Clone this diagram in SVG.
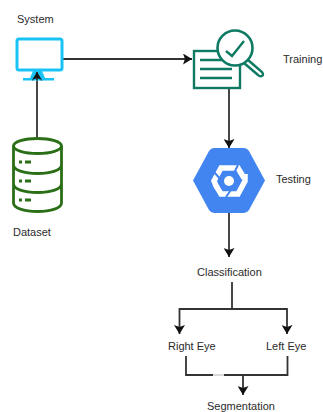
<svg xmlns="http://www.w3.org/2000/svg" width="323" height="412" viewBox="0 0 323 412">
<style>
text{font-family:"Liberation Sans",Arial,sans-serif;font-size:11px;fill:#2b2b2b}
.c{fill:none;stroke:#333;stroke-width:1.800}
.g{fill:none;stroke:#2a6f16;stroke-width:2.800}
.t{fill:none;stroke:#0f7a62;stroke-width:2.400}
.w{fill:none;stroke:#fff;stroke-width:5.500}
</style>
<defs><marker id="a" markerUnits="userSpaceOnUse" markerWidth="10" markerHeight="11" refX="9" refY="5.500" orient="auto"><path d="M0,0L9,5.500L0,11L2,5.500Z" fill="#111"/></marker></defs>
<rect width="323" height="412" fill="#fff"/>
<g id="connectors">
<path class="c" d="M63,59H192" marker-end="url(#a)"/>
<path class="c" d="M37,138V72" marker-end="url(#a)"/>
<path class="c" d="M229,88V148" marker-end="url(#a)"/>
<path class="c" d="M229,213V257" marker-end="url(#a)"/>
<path class="c" d="M232,282V309"/>
<path class="c" d="M232,309H179.500V334" marker-end="url(#a)"/>
<path class="c" d="M232,309H287V334" marker-end="url(#a)"/>
<path class="c" d="M186,356V375H213M224,375H287.500V356"/>
<path d="M213,375H224" stroke="#ccc" stroke-width="1.500"/>
<path class="c" d="M243,375V395" marker-end="url(#a)"/>
</g>
<g id="system"><rect x="17" y="39" width="45" height="31" rx="2" fill="#fff" stroke="#19c3f5" stroke-width="3"/><path d="M33,71H42L45,78H54V80.500H23V78H30Z" fill="#19c3f5"/><path d="M37,72V80" stroke="#333" stroke-width="1.800"/><path d="M32,80L37,72L42,80L37,78Z" fill="#111"/><text x="17" y="23">System</text></g>
<g id="dataset"><ellipse class="g" cx="37.500" cy="146" rx="24" ry="7.500" fill="#fff"/><path class="g" d="M13.500,146V203C13.500,208 24,211.500 37.500,211.500S61.500,208 61.500,203V146M13.500,165C13.500,170 24,173.500 37.500,173.500S61.500,170 61.500,165M13.500,184C13.500,189 24,192.500 37.500,192.500S61.500,189 61.500,184"/><path class="g" d="M19,162H22M25,162H31M19,181H22M25,181H31M19,200H22M25,200H31"/><text x="13" y="236">Dataset</text></g>
<g id="training"><rect class="t" x="194" y="51" width="46" height="37"/><path class="t" d="M200,60H222M200,69H232M200,78H232"/><circle cx="235" cy="48" r="17.500" fill="#fff" stroke="#0f7a62" stroke-width="2.600"/><path class="t" d="M226,51L232,56L244,41" stroke-width="2.800"/><path class="t" d="M248,60L262,72Q264,75 262,76Q260,77 258,75L244,63" fill="#fff"/><text x="283" y="63">Training</text></g>
<g id="testing"><path d="M193,180.500L209,151Q211,148 214,148H244Q247,148 249,151L265,180.500L249,210Q247,213 244,213H214Q211,213 209,210Z" fill="#4285f0"/><path class="w" d="M217,188L214,181L221,168L233,168M226,168H238L244,178M245,174L245,181L238,194H226M232,194H221L215,184"/><path d="M214,172L222,181M238,165L233,175M226,197L233,187" stroke="#4285f0" stroke-width="2"/><circle cx="229" cy="181" r="5" fill="#fff"/><text x="276" y="183">Testing</text></g>
<g id="classification"><text x="197" y="276">Classification</text></g>
<g id="right-eye"><text x="168" y="350">Right Eye</text></g>
<g id="left-eye"><text x="266" y="350">Left Eye</text></g>
<g id="segmentation"><text x="207" y="410">Segmentation</text></g>
</svg>
